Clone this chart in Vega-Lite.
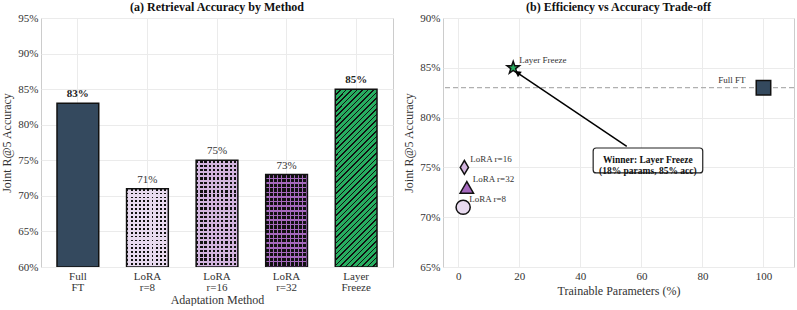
{
  "$schema": "https://vega.github.io/schema/vega-lite/v6.json",
  "padding": {"left": 0, "top": 0, "right": 0, "bottom": 0},
  "spacing": 8,
  "config": {
    "font": "Liberation Serif",
    "view": {"stroke": "#cccccc", "strokeWidth": 1},
    "axis": {"grid": true, "gridColor": "#ebebeb", "domain": false, "ticks": false, "labelFontSize": 11, "titleFontSize": 12, "labelColor": "#333333", "titleColor": "#333333", "titleFontWeight": "normal", "labelPadding": 3, "titlePadding": 4},
    "title": {"fontSize": 12, "fontWeight": "bold", "offset": -2, "color": "#111111"}
  },
  "datasets": {
    "bars": [
      {"method": "Full FT", "acc": 83},
      {"method": "LoRA r=8", "acc": 71},
      {"method": "LoRA r=16", "acc": 75},
      {"method": "LoRA r=32", "acc": 73},
      {"method": "Layer Freeze", "acc": 85}
    ],
    "points": [
      {"method": "Full FT", "params": 100, "acc": 83},
      {"method": "LoRA r=8", "params": 1.6, "acc": 71},
      {"method": "LoRA r=16", "params": 2.0, "acc": 75},
      {"method": "LoRA r=32", "params": 2.8, "acc": 73},
      {"method": "Layer Freeze", "params": 18, "acc": 85}
    ],
    "annot": [
      {"text": "Winner: Layer Freeze\n(18% params, 85% acc)", "x": 62.1, "y": 75.7, "bx": 44.2, "bx2": 80.1, "by": 76.95, "by2": 74.45, "ax": 55.2, "ay": 77.1, "ax2": 19.4, "ay2": 84.5}
    ]
  },
  "hconcat": [
    {
      "width": 352,
      "height": 249,
      "title": "(a) Retrieval Accuracy by Method",
      "data": {"name": "bars"},
      "transform": [{"calculate": "datum.acc + '%'", "as": "label"}],
      "encoding": {
        "x": {"field": "method", "type": "nominal", "sort": null,
              "scale": {"domain": ["Full FT", "LoRA r=8", "LoRA r=16", "LoRA r=32", "Layer Freeze"], "paddingInner": 0.4, "paddingOuter": 0.23},
              "axis": {"labelAngle": 0, "labelExpr": "split(datum.label, ' ')", "labelLineHeight": 11, "title": "Adaptation Method", "titlePadding": 2}},
        "y": {"field": "acc", "type": "quantitative",
              "scale": {"domain": [60, 95], "zero": false},
              "axis": {"values": [60, 65, 70, 75, 80, 85, 90, 95], "labelExpr": "datum.value + '%'", "title": "Joint R@5 Accuracy"}},
        "y2": {"datum": 60}
      },
      "layer": [
        {
          "transform": [{"filter": "datum.method === 'Full FT'"}],
          "mark": {"type": "bar", "fill": "#34495e", "strokeWidth": 0, "clip": true}
        },
        {
          "transform": [{"filter": "indexof(datum.method, 'LoRA') === 0"}],
          "mark": {"type": "bar", "fill": "#111111", "strokeWidth": 0, "clip": true}
        },
        {
          "transform": [{"filter": "datum.method === 'LoRA r=8'"}],
          "mark": {"type": "bar", "strokeWidth": 0, "clip": true, "fill": {"gradient": "linear", "x1": 0, "y1": 0, "x2": 1, "y2": 0, "stops": [
            {"offset": 0, "color": "rgba(0,0,0,0)"}, {"offset": 0.045, "color": "rgba(0,0,0,0)"}, {"offset": 0.045, "color": "#e8daef"}, {"offset": 0.1, "color": "#e8daef"},
            {"offset": 0.1, "color": "rgba(0,0,0,0)"}, {"offset": 0.145, "color": "rgba(0,0,0,0)"}, {"offset": 0.145, "color": "#e8daef"}, {"offset": 0.2, "color": "#e8daef"},
            {"offset": 0.2, "color": "rgba(0,0,0,0)"}, {"offset": 0.245, "color": "rgba(0,0,0,0)"}, {"offset": 0.245, "color": "#e8daef"}, {"offset": 0.3, "color": "#e8daef"},
            {"offset": 0.3, "color": "rgba(0,0,0,0)"}, {"offset": 0.345, "color": "rgba(0,0,0,0)"}, {"offset": 0.345, "color": "#e8daef"}, {"offset": 0.4, "color": "#e8daef"},
            {"offset": 0.4, "color": "rgba(0,0,0,0)"}, {"offset": 0.445, "color": "rgba(0,0,0,0)"}, {"offset": 0.445, "color": "#e8daef"}, {"offset": 0.5, "color": "#e8daef"},
            {"offset": 0.5, "color": "rgba(0,0,0,0)"}, {"offset": 0.545, "color": "rgba(0,0,0,0)"}, {"offset": 0.545, "color": "#e8daef"}, {"offset": 0.6, "color": "#e8daef"},
            {"offset": 0.6, "color": "rgba(0,0,0,0)"}, {"offset": 0.645, "color": "rgba(0,0,0,0)"}, {"offset": 0.645, "color": "#e8daef"}, {"offset": 0.7, "color": "#e8daef"},
            {"offset": 0.7, "color": "rgba(0,0,0,0)"}, {"offset": 0.745, "color": "rgba(0,0,0,0)"}, {"offset": 0.745, "color": "#e8daef"}, {"offset": 0.8, "color": "#e8daef"},
            {"offset": 0.8, "color": "rgba(0,0,0,0)"}, {"offset": 0.845, "color": "rgba(0,0,0,0)"}, {"offset": 0.845, "color": "#e8daef"}, {"offset": 0.9, "color": "#e8daef"},
            {"offset": 0.9, "color": "rgba(0,0,0,0)"}, {"offset": 0.945, "color": "rgba(0,0,0,0)"}, {"offset": 0.945, "color": "#e8daef"}, {"offset": 1, "color": "#e8daef"}
          ]}}
        },
        {
          "transform": [{"filter": "datum.method === 'LoRA r=8'"}],
          "mark": {"type": "bar", "strokeWidth": 0, "clip": true, "fill": {"gradient": "linear", "x1": 0, "y1": 0, "x2": 0, "y2": 1, "stops": [
            {"offset": 0, "color": "rgba(0,0,0,0)"}, {"offset": 0.0225, "color": "rgba(0,0,0,0)"}, {"offset": 0.0225, "color": "#e8daef"}, {"offset": 0.05, "color": "#e8daef"},
            {"offset": 0.05, "color": "rgba(0,0,0,0)"}, {"offset": 0.0725, "color": "rgba(0,0,0,0)"}, {"offset": 0.0725, "color": "#e8daef"}, {"offset": 0.1, "color": "#e8daef"},
            {"offset": 0.1, "color": "rgba(0,0,0,0)"}, {"offset": 0.1225, "color": "rgba(0,0,0,0)"}, {"offset": 0.1225, "color": "#e8daef"}, {"offset": 0.15, "color": "#e8daef"},
            {"offset": 0.15, "color": "rgba(0,0,0,0)"}, {"offset": 0.1725, "color": "rgba(0,0,0,0)"}, {"offset": 0.1725, "color": "#e8daef"}, {"offset": 0.2, "color": "#e8daef"},
            {"offset": 0.2, "color": "rgba(0,0,0,0)"}, {"offset": 0.2225, "color": "rgba(0,0,0,0)"}, {"offset": 0.2225, "color": "#e8daef"}, {"offset": 0.25, "color": "#e8daef"},
            {"offset": 0.25, "color": "rgba(0,0,0,0)"}, {"offset": 0.2725, "color": "rgba(0,0,0,0)"}, {"offset": 0.2725, "color": "#e8daef"}, {"offset": 0.3, "color": "#e8daef"},
            {"offset": 0.3, "color": "rgba(0,0,0,0)"}, {"offset": 0.3225, "color": "rgba(0,0,0,0)"}, {"offset": 0.3225, "color": "#e8daef"}, {"offset": 0.35, "color": "#e8daef"},
            {"offset": 0.35, "color": "rgba(0,0,0,0)"}, {"offset": 0.3725, "color": "rgba(0,0,0,0)"}, {"offset": 0.3725, "color": "#e8daef"}, {"offset": 0.4, "color": "#e8daef"},
            {"offset": 0.4, "color": "rgba(0,0,0,0)"}, {"offset": 0.4225, "color": "rgba(0,0,0,0)"}, {"offset": 0.4225, "color": "#e8daef"}, {"offset": 0.45, "color": "#e8daef"},
            {"offset": 0.45, "color": "rgba(0,0,0,0)"}, {"offset": 0.4725, "color": "rgba(0,0,0,0)"}, {"offset": 0.4725, "color": "#e8daef"}, {"offset": 0.5, "color": "#e8daef"},
            {"offset": 0.5, "color": "rgba(0,0,0,0)"}, {"offset": 0.5225, "color": "rgba(0,0,0,0)"}, {"offset": 0.5225, "color": "#e8daef"}, {"offset": 0.55, "color": "#e8daef"},
            {"offset": 0.55, "color": "rgba(0,0,0,0)"}, {"offset": 0.5725, "color": "rgba(0,0,0,0)"}, {"offset": 0.5725, "color": "#e8daef"}, {"offset": 0.6, "color": "#e8daef"},
            {"offset": 0.6, "color": "rgba(0,0,0,0)"}, {"offset": 0.6225, "color": "rgba(0,0,0,0)"}, {"offset": 0.6225, "color": "#e8daef"}, {"offset": 0.65, "color": "#e8daef"},
            {"offset": 0.65, "color": "rgba(0,0,0,0)"}, {"offset": 0.6725, "color": "rgba(0,0,0,0)"}, {"offset": 0.6725, "color": "#e8daef"}, {"offset": 0.7, "color": "#e8daef"},
            {"offset": 0.7, "color": "rgba(0,0,0,0)"}, {"offset": 0.7225, "color": "rgba(0,0,0,0)"}, {"offset": 0.7225, "color": "#e8daef"}, {"offset": 0.75, "color": "#e8daef"},
            {"offset": 0.75, "color": "rgba(0,0,0,0)"}, {"offset": 0.7725, "color": "rgba(0,0,0,0)"}, {"offset": 0.7725, "color": "#e8daef"}, {"offset": 0.8, "color": "#e8daef"},
            {"offset": 0.8, "color": "rgba(0,0,0,0)"}, {"offset": 0.8225, "color": "rgba(0,0,0,0)"}, {"offset": 0.8225, "color": "#e8daef"}, {"offset": 0.85, "color": "#e8daef"},
            {"offset": 0.85, "color": "rgba(0,0,0,0)"}, {"offset": 0.8725, "color": "rgba(0,0,0,0)"}, {"offset": 0.8725, "color": "#e8daef"}, {"offset": 0.9, "color": "#e8daef"},
            {"offset": 0.9, "color": "rgba(0,0,0,0)"}, {"offset": 0.9225, "color": "rgba(0,0,0,0)"}, {"offset": 0.9225, "color": "#e8daef"}, {"offset": 0.95, "color": "#e8daef"},
            {"offset": 0.95, "color": "rgba(0,0,0,0)"}, {"offset": 0.9725, "color": "rgba(0,0,0,0)"}, {"offset": 0.9725, "color": "#e8daef"}, {"offset": 1, "color": "#e8daef"}
          ]}}
        },
        {
          "transform": [{"filter": "datum.method === 'LoRA r=16'"}],
          "mark": {"type": "bar", "strokeWidth": 0, "clip": true, "fill": {"gradient": "linear", "x1": 0, "y1": 0, "x2": 1, "y2": 0, "stops": [
            {"offset": 0, "color": "rgba(0,0,0,0)"}, {"offset": 0.055, "color": "rgba(0,0,0,0)"}, {"offset": 0.055, "color": "#d2b4de"}, {"offset": 0.1, "color": "#d2b4de"},
            {"offset": 0.1, "color": "rgba(0,0,0,0)"}, {"offset": 0.155, "color": "rgba(0,0,0,0)"}, {"offset": 0.155, "color": "#d2b4de"}, {"offset": 0.2, "color": "#d2b4de"},
            {"offset": 0.2, "color": "rgba(0,0,0,0)"}, {"offset": 0.255, "color": "rgba(0,0,0,0)"}, {"offset": 0.255, "color": "#d2b4de"}, {"offset": 0.3, "color": "#d2b4de"},
            {"offset": 0.3, "color": "rgba(0,0,0,0)"}, {"offset": 0.355, "color": "rgba(0,0,0,0)"}, {"offset": 0.355, "color": "#d2b4de"}, {"offset": 0.4, "color": "#d2b4de"},
            {"offset": 0.4, "color": "rgba(0,0,0,0)"}, {"offset": 0.455, "color": "rgba(0,0,0,0)"}, {"offset": 0.455, "color": "#d2b4de"}, {"offset": 0.5, "color": "#d2b4de"},
            {"offset": 0.5, "color": "rgba(0,0,0,0)"}, {"offset": 0.555, "color": "rgba(0,0,0,0)"}, {"offset": 0.555, "color": "#d2b4de"}, {"offset": 0.6, "color": "#d2b4de"},
            {"offset": 0.6, "color": "rgba(0,0,0,0)"}, {"offset": 0.655, "color": "rgba(0,0,0,0)"}, {"offset": 0.655, "color": "#d2b4de"}, {"offset": 0.7, "color": "#d2b4de"},
            {"offset": 0.7, "color": "rgba(0,0,0,0)"}, {"offset": 0.755, "color": "rgba(0,0,0,0)"}, {"offset": 0.755, "color": "#d2b4de"}, {"offset": 0.8, "color": "#d2b4de"},
            {"offset": 0.8, "color": "rgba(0,0,0,0)"}, {"offset": 0.855, "color": "rgba(0,0,0,0)"}, {"offset": 0.855, "color": "#d2b4de"}, {"offset": 0.9, "color": "#d2b4de"},
            {"offset": 0.9, "color": "rgba(0,0,0,0)"}, {"offset": 0.955, "color": "rgba(0,0,0,0)"}, {"offset": 0.955, "color": "#d2b4de"}, {"offset": 1, "color": "#d2b4de"}
          ]}}
        },
        {
          "transform": [{"filter": "datum.method === 'LoRA r=16'"}],
          "mark": {"type": "bar", "strokeWidth": 0, "clip": true, "fill": {"gradient": "linear", "x1": 0, "y1": 0, "x2": 0, "y2": 1, "stops": [
            {"offset": 0, "color": "rgba(0,0,0,0)"}, {"offset": 0.022, "color": "rgba(0,0,0,0)"}, {"offset": 0.022, "color": "#d2b4de"}, {"offset": 0.04, "color": "#d2b4de"},
            {"offset": 0.04, "color": "rgba(0,0,0,0)"}, {"offset": 0.062, "color": "rgba(0,0,0,0)"}, {"offset": 0.062, "color": "#d2b4de"}, {"offset": 0.08, "color": "#d2b4de"},
            {"offset": 0.08, "color": "rgba(0,0,0,0)"}, {"offset": 0.102, "color": "rgba(0,0,0,0)"}, {"offset": 0.102, "color": "#d2b4de"}, {"offset": 0.12, "color": "#d2b4de"},
            {"offset": 0.12, "color": "rgba(0,0,0,0)"}, {"offset": 0.142, "color": "rgba(0,0,0,0)"}, {"offset": 0.142, "color": "#d2b4de"}, {"offset": 0.16, "color": "#d2b4de"},
            {"offset": 0.16, "color": "rgba(0,0,0,0)"}, {"offset": 0.182, "color": "rgba(0,0,0,0)"}, {"offset": 0.182, "color": "#d2b4de"}, {"offset": 0.2, "color": "#d2b4de"},
            {"offset": 0.2, "color": "rgba(0,0,0,0)"}, {"offset": 0.222, "color": "rgba(0,0,0,0)"}, {"offset": 0.222, "color": "#d2b4de"}, {"offset": 0.24, "color": "#d2b4de"},
            {"offset": 0.24, "color": "rgba(0,0,0,0)"}, {"offset": 0.262, "color": "rgba(0,0,0,0)"}, {"offset": 0.262, "color": "#d2b4de"}, {"offset": 0.28, "color": "#d2b4de"},
            {"offset": 0.28, "color": "rgba(0,0,0,0)"}, {"offset": 0.302, "color": "rgba(0,0,0,0)"}, {"offset": 0.302, "color": "#d2b4de"}, {"offset": 0.32, "color": "#d2b4de"},
            {"offset": 0.32, "color": "rgba(0,0,0,0)"}, {"offset": 0.342, "color": "rgba(0,0,0,0)"}, {"offset": 0.342, "color": "#d2b4de"}, {"offset": 0.36, "color": "#d2b4de"},
            {"offset": 0.36, "color": "rgba(0,0,0,0)"}, {"offset": 0.382, "color": "rgba(0,0,0,0)"}, {"offset": 0.382, "color": "#d2b4de"}, {"offset": 0.4, "color": "#d2b4de"},
            {"offset": 0.4, "color": "rgba(0,0,0,0)"}, {"offset": 0.422, "color": "rgba(0,0,0,0)"}, {"offset": 0.422, "color": "#d2b4de"}, {"offset": 0.44, "color": "#d2b4de"},
            {"offset": 0.44, "color": "rgba(0,0,0,0)"}, {"offset": 0.462, "color": "rgba(0,0,0,0)"}, {"offset": 0.462, "color": "#d2b4de"}, {"offset": 0.48, "color": "#d2b4de"},
            {"offset": 0.48, "color": "rgba(0,0,0,0)"}, {"offset": 0.502, "color": "rgba(0,0,0,0)"}, {"offset": 0.502, "color": "#d2b4de"}, {"offset": 0.52, "color": "#d2b4de"},
            {"offset": 0.52, "color": "rgba(0,0,0,0)"}, {"offset": 0.542, "color": "rgba(0,0,0,0)"}, {"offset": 0.542, "color": "#d2b4de"}, {"offset": 0.56, "color": "#d2b4de"},
            {"offset": 0.56, "color": "rgba(0,0,0,0)"}, {"offset": 0.582, "color": "rgba(0,0,0,0)"}, {"offset": 0.582, "color": "#d2b4de"}, {"offset": 0.6, "color": "#d2b4de"},
            {"offset": 0.6, "color": "rgba(0,0,0,0)"}, {"offset": 0.622, "color": "rgba(0,0,0,0)"}, {"offset": 0.622, "color": "#d2b4de"}, {"offset": 0.64, "color": "#d2b4de"},
            {"offset": 0.64, "color": "rgba(0,0,0,0)"}, {"offset": 0.662, "color": "rgba(0,0,0,0)"}, {"offset": 0.662, "color": "#d2b4de"}, {"offset": 0.68, "color": "#d2b4de"},
            {"offset": 0.68, "color": "rgba(0,0,0,0)"}, {"offset": 0.702, "color": "rgba(0,0,0,0)"}, {"offset": 0.702, "color": "#d2b4de"}, {"offset": 0.72, "color": "#d2b4de"},
            {"offset": 0.72, "color": "rgba(0,0,0,0)"}, {"offset": 0.742, "color": "rgba(0,0,0,0)"}, {"offset": 0.742, "color": "#d2b4de"}, {"offset": 0.76, "color": "#d2b4de"},
            {"offset": 0.76, "color": "rgba(0,0,0,0)"}, {"offset": 0.782, "color": "rgba(0,0,0,0)"}, {"offset": 0.782, "color": "#d2b4de"}, {"offset": 0.8, "color": "#d2b4de"},
            {"offset": 0.8, "color": "rgba(0,0,0,0)"}, {"offset": 0.822, "color": "rgba(0,0,0,0)"}, {"offset": 0.822, "color": "#d2b4de"}, {"offset": 0.84, "color": "#d2b4de"},
            {"offset": 0.84, "color": "rgba(0,0,0,0)"}, {"offset": 0.862, "color": "rgba(0,0,0,0)"}, {"offset": 0.862, "color": "#d2b4de"}, {"offset": 0.88, "color": "#d2b4de"},
            {"offset": 0.88, "color": "rgba(0,0,0,0)"}, {"offset": 0.902, "color": "rgba(0,0,0,0)"}, {"offset": 0.902, "color": "#d2b4de"}, {"offset": 0.92, "color": "#d2b4de"},
            {"offset": 0.92, "color": "rgba(0,0,0,0)"}, {"offset": 0.942, "color": "rgba(0,0,0,0)"}, {"offset": 0.942, "color": "#d2b4de"}, {"offset": 0.96, "color": "#d2b4de"},
            {"offset": 0.96, "color": "rgba(0,0,0,0)"}, {"offset": 0.982, "color": "rgba(0,0,0,0)"}, {"offset": 0.982, "color": "#d2b4de"}, {"offset": 1, "color": "#d2b4de"}
          ]}}
        },
        {
          "transform": [{"filter": "datum.method === 'LoRA r=32'"}],
          "mark": {"type": "bar", "strokeWidth": 0, "clip": true, "fill": {"gradient": "linear", "x1": 0, "y1": 0, "x2": 1, "y2": 0, "stops": [
            {"offset": 0, "color": "rgba(0,0,0,0)"}, {"offset": 0.075, "color": "rgba(0,0,0,0)"}, {"offset": 0.075, "color": "#a569bd"}, {"offset": 0.1, "color": "#a569bd"},
            {"offset": 0.1, "color": "rgba(0,0,0,0)"}, {"offset": 0.175, "color": "rgba(0,0,0,0)"}, {"offset": 0.175, "color": "#a569bd"}, {"offset": 0.2, "color": "#a569bd"},
            {"offset": 0.2, "color": "rgba(0,0,0,0)"}, {"offset": 0.275, "color": "rgba(0,0,0,0)"}, {"offset": 0.275, "color": "#a569bd"}, {"offset": 0.3, "color": "#a569bd"},
            {"offset": 0.3, "color": "rgba(0,0,0,0)"}, {"offset": 0.375, "color": "rgba(0,0,0,0)"}, {"offset": 0.375, "color": "#a569bd"}, {"offset": 0.4, "color": "#a569bd"},
            {"offset": 0.4, "color": "rgba(0,0,0,0)"}, {"offset": 0.475, "color": "rgba(0,0,0,0)"}, {"offset": 0.475, "color": "#a569bd"}, {"offset": 0.5, "color": "#a569bd"},
            {"offset": 0.5, "color": "rgba(0,0,0,0)"}, {"offset": 0.575, "color": "rgba(0,0,0,0)"}, {"offset": 0.575, "color": "#a569bd"}, {"offset": 0.6, "color": "#a569bd"},
            {"offset": 0.6, "color": "rgba(0,0,0,0)"}, {"offset": 0.675, "color": "rgba(0,0,0,0)"}, {"offset": 0.675, "color": "#a569bd"}, {"offset": 0.7, "color": "#a569bd"},
            {"offset": 0.7, "color": "rgba(0,0,0,0)"}, {"offset": 0.775, "color": "rgba(0,0,0,0)"}, {"offset": 0.775, "color": "#a569bd"}, {"offset": 0.8, "color": "#a569bd"},
            {"offset": 0.8, "color": "rgba(0,0,0,0)"}, {"offset": 0.875, "color": "rgba(0,0,0,0)"}, {"offset": 0.875, "color": "#a569bd"}, {"offset": 0.9, "color": "#a569bd"},
            {"offset": 0.9, "color": "rgba(0,0,0,0)"}, {"offset": 0.975, "color": "rgba(0,0,0,0)"}, {"offset": 0.975, "color": "#a569bd"}, {"offset": 1, "color": "#a569bd"}
          ]}}
        },
        {
          "transform": [{"filter": "datum.method === 'LoRA r=32'"}],
          "mark": {"type": "bar", "strokeWidth": 0, "clip": true, "fill": {"gradient": "linear", "x1": 0, "y1": 0, "x2": 0, "y2": 1, "stops": [
            {"offset": 0, "color": "rgba(0,0,0,0)"}, {"offset": 0.035, "color": "rgba(0,0,0,0)"}, {"offset": 0.035, "color": "#a569bd"}, {"offset": 0.05, "color": "#a569bd"},
            {"offset": 0.05, "color": "rgba(0,0,0,0)"}, {"offset": 0.085, "color": "rgba(0,0,0,0)"}, {"offset": 0.085, "color": "#a569bd"}, {"offset": 0.1, "color": "#a569bd"},
            {"offset": 0.1, "color": "rgba(0,0,0,0)"}, {"offset": 0.135, "color": "rgba(0,0,0,0)"}, {"offset": 0.135, "color": "#a569bd"}, {"offset": 0.15, "color": "#a569bd"},
            {"offset": 0.15, "color": "rgba(0,0,0,0)"}, {"offset": 0.185, "color": "rgba(0,0,0,0)"}, {"offset": 0.185, "color": "#a569bd"}, {"offset": 0.2, "color": "#a569bd"},
            {"offset": 0.2, "color": "rgba(0,0,0,0)"}, {"offset": 0.235, "color": "rgba(0,0,0,0)"}, {"offset": 0.235, "color": "#a569bd"}, {"offset": 0.25, "color": "#a569bd"},
            {"offset": 0.25, "color": "rgba(0,0,0,0)"}, {"offset": 0.285, "color": "rgba(0,0,0,0)"}, {"offset": 0.285, "color": "#a569bd"}, {"offset": 0.3, "color": "#a569bd"},
            {"offset": 0.3, "color": "rgba(0,0,0,0)"}, {"offset": 0.335, "color": "rgba(0,0,0,0)"}, {"offset": 0.335, "color": "#a569bd"}, {"offset": 0.35, "color": "#a569bd"},
            {"offset": 0.35, "color": "rgba(0,0,0,0)"}, {"offset": 0.385, "color": "rgba(0,0,0,0)"}, {"offset": 0.385, "color": "#a569bd"}, {"offset": 0.4, "color": "#a569bd"},
            {"offset": 0.4, "color": "rgba(0,0,0,0)"}, {"offset": 0.435, "color": "rgba(0,0,0,0)"}, {"offset": 0.435, "color": "#a569bd"}, {"offset": 0.45, "color": "#a569bd"},
            {"offset": 0.45, "color": "rgba(0,0,0,0)"}, {"offset": 0.485, "color": "rgba(0,0,0,0)"}, {"offset": 0.485, "color": "#a569bd"}, {"offset": 0.5, "color": "#a569bd"},
            {"offset": 0.5, "color": "rgba(0,0,0,0)"}, {"offset": 0.535, "color": "rgba(0,0,0,0)"}, {"offset": 0.535, "color": "#a569bd"}, {"offset": 0.55, "color": "#a569bd"},
            {"offset": 0.55, "color": "rgba(0,0,0,0)"}, {"offset": 0.585, "color": "rgba(0,0,0,0)"}, {"offset": 0.585, "color": "#a569bd"}, {"offset": 0.6, "color": "#a569bd"},
            {"offset": 0.6, "color": "rgba(0,0,0,0)"}, {"offset": 0.635, "color": "rgba(0,0,0,0)"}, {"offset": 0.635, "color": "#a569bd"}, {"offset": 0.65, "color": "#a569bd"},
            {"offset": 0.65, "color": "rgba(0,0,0,0)"}, {"offset": 0.685, "color": "rgba(0,0,0,0)"}, {"offset": 0.685, "color": "#a569bd"}, {"offset": 0.7, "color": "#a569bd"},
            {"offset": 0.7, "color": "rgba(0,0,0,0)"}, {"offset": 0.735, "color": "rgba(0,0,0,0)"}, {"offset": 0.735, "color": "#a569bd"}, {"offset": 0.75, "color": "#a569bd"},
            {"offset": 0.75, "color": "rgba(0,0,0,0)"}, {"offset": 0.785, "color": "rgba(0,0,0,0)"}, {"offset": 0.785, "color": "#a569bd"}, {"offset": 0.8, "color": "#a569bd"},
            {"offset": 0.8, "color": "rgba(0,0,0,0)"}, {"offset": 0.835, "color": "rgba(0,0,0,0)"}, {"offset": 0.835, "color": "#a569bd"}, {"offset": 0.85, "color": "#a569bd"},
            {"offset": 0.85, "color": "rgba(0,0,0,0)"}, {"offset": 0.885, "color": "rgba(0,0,0,0)"}, {"offset": 0.885, "color": "#a569bd"}, {"offset": 0.9, "color": "#a569bd"},
            {"offset": 0.9, "color": "rgba(0,0,0,0)"}, {"offset": 0.935, "color": "rgba(0,0,0,0)"}, {"offset": 0.935, "color": "#a569bd"}, {"offset": 0.95, "color": "#a569bd"},
            {"offset": 0.95, "color": "rgba(0,0,0,0)"}, {"offset": 0.985, "color": "rgba(0,0,0,0)"}, {"offset": 0.985, "color": "#a569bd"}, {"offset": 1, "color": "#a569bd"}
          ]}}
        },
        {
          "transform": [{"filter": "datum.method === 'Layer Freeze'"}],
          "mark": {"type": "bar", "strokeWidth": 0, "clip": true, "fill": {"gradient": "linear", "x1": 0, "y1": 0, "x2": 0.2765, "y2": 1.171, "stops": [
            {"offset": 0, "color": "#111111"}, {"offset": 0.0075, "color": "#111111"}, {"offset": 0.0075, "color": "#27ae60"}, {"offset": 0.025, "color": "#27ae60"},
            {"offset": 0.025, "color": "#111111"}, {"offset": 0.0325, "color": "#111111"}, {"offset": 0.0325, "color": "#27ae60"}, {"offset": 0.05, "color": "#27ae60"},
            {"offset": 0.05, "color": "#111111"}, {"offset": 0.0575, "color": "#111111"}, {"offset": 0.0575, "color": "#27ae60"}, {"offset": 0.075, "color": "#27ae60"},
            {"offset": 0.075, "color": "#111111"}, {"offset": 0.0825, "color": "#111111"}, {"offset": 0.0825, "color": "#27ae60"}, {"offset": 0.1, "color": "#27ae60"},
            {"offset": 0.1, "color": "#111111"}, {"offset": 0.1075, "color": "#111111"}, {"offset": 0.1075, "color": "#27ae60"}, {"offset": 0.125, "color": "#27ae60"},
            {"offset": 0.125, "color": "#111111"}, {"offset": 0.1325, "color": "#111111"}, {"offset": 0.1325, "color": "#27ae60"}, {"offset": 0.15, "color": "#27ae60"},
            {"offset": 0.15, "color": "#111111"}, {"offset": 0.1575, "color": "#111111"}, {"offset": 0.1575, "color": "#27ae60"}, {"offset": 0.175, "color": "#27ae60"},
            {"offset": 0.175, "color": "#111111"}, {"offset": 0.1825, "color": "#111111"}, {"offset": 0.1825, "color": "#27ae60"}, {"offset": 0.2, "color": "#27ae60"},
            {"offset": 0.2, "color": "#111111"}, {"offset": 0.2075, "color": "#111111"}, {"offset": 0.2075, "color": "#27ae60"}, {"offset": 0.225, "color": "#27ae60"},
            {"offset": 0.225, "color": "#111111"}, {"offset": 0.2325, "color": "#111111"}, {"offset": 0.2325, "color": "#27ae60"}, {"offset": 0.25, "color": "#27ae60"},
            {"offset": 0.25, "color": "#111111"}, {"offset": 0.2575, "color": "#111111"}, {"offset": 0.2575, "color": "#27ae60"}, {"offset": 0.275, "color": "#27ae60"},
            {"offset": 0.275, "color": "#111111"}, {"offset": 0.2825, "color": "#111111"}, {"offset": 0.2825, "color": "#27ae60"}, {"offset": 0.3, "color": "#27ae60"},
            {"offset": 0.3, "color": "#111111"}, {"offset": 0.3075, "color": "#111111"}, {"offset": 0.3075, "color": "#27ae60"}, {"offset": 0.325, "color": "#27ae60"},
            {"offset": 0.325, "color": "#111111"}, {"offset": 0.3325, "color": "#111111"}, {"offset": 0.3325, "color": "#27ae60"}, {"offset": 0.35, "color": "#27ae60"},
            {"offset": 0.35, "color": "#111111"}, {"offset": 0.3575, "color": "#111111"}, {"offset": 0.3575, "color": "#27ae60"}, {"offset": 0.375, "color": "#27ae60"},
            {"offset": 0.375, "color": "#111111"}, {"offset": 0.3825, "color": "#111111"}, {"offset": 0.3825, "color": "#27ae60"}, {"offset": 0.4, "color": "#27ae60"},
            {"offset": 0.4, "color": "#111111"}, {"offset": 0.4075, "color": "#111111"}, {"offset": 0.4075, "color": "#27ae60"}, {"offset": 0.425, "color": "#27ae60"},
            {"offset": 0.425, "color": "#111111"}, {"offset": 0.4325, "color": "#111111"}, {"offset": 0.4325, "color": "#27ae60"}, {"offset": 0.45, "color": "#27ae60"},
            {"offset": 0.45, "color": "#111111"}, {"offset": 0.4575, "color": "#111111"}, {"offset": 0.4575, "color": "#27ae60"}, {"offset": 0.475, "color": "#27ae60"},
            {"offset": 0.475, "color": "#111111"}, {"offset": 0.4825, "color": "#111111"}, {"offset": 0.4825, "color": "#27ae60"}, {"offset": 0.5, "color": "#27ae60"},
            {"offset": 0.5, "color": "#111111"}, {"offset": 0.5075, "color": "#111111"}, {"offset": 0.5075, "color": "#27ae60"}, {"offset": 0.525, "color": "#27ae60"},
            {"offset": 0.525, "color": "#111111"}, {"offset": 0.5325, "color": "#111111"}, {"offset": 0.5325, "color": "#27ae60"}, {"offset": 0.55, "color": "#27ae60"},
            {"offset": 0.55, "color": "#111111"}, {"offset": 0.5575, "color": "#111111"}, {"offset": 0.5575, "color": "#27ae60"}, {"offset": 0.575, "color": "#27ae60"},
            {"offset": 0.575, "color": "#111111"}, {"offset": 0.5825, "color": "#111111"}, {"offset": 0.5825, "color": "#27ae60"}, {"offset": 0.6, "color": "#27ae60"},
            {"offset": 0.6, "color": "#111111"}, {"offset": 0.6075, "color": "#111111"}, {"offset": 0.6075, "color": "#27ae60"}, {"offset": 0.625, "color": "#27ae60"},
            {"offset": 0.625, "color": "#111111"}, {"offset": 0.6325, "color": "#111111"}, {"offset": 0.6325, "color": "#27ae60"}, {"offset": 0.65, "color": "#27ae60"},
            {"offset": 0.65, "color": "#111111"}, {"offset": 0.6575, "color": "#111111"}, {"offset": 0.6575, "color": "#27ae60"}, {"offset": 0.675, "color": "#27ae60"},
            {"offset": 0.675, "color": "#111111"}, {"offset": 0.6825, "color": "#111111"}, {"offset": 0.6825, "color": "#27ae60"}, {"offset": 0.7, "color": "#27ae60"},
            {"offset": 0.7, "color": "#111111"}, {"offset": 0.7075, "color": "#111111"}, {"offset": 0.7075, "color": "#27ae60"}, {"offset": 0.725, "color": "#27ae60"},
            {"offset": 0.725, "color": "#111111"}, {"offset": 0.7325, "color": "#111111"}, {"offset": 0.7325, "color": "#27ae60"}, {"offset": 0.75, "color": "#27ae60"},
            {"offset": 0.75, "color": "#111111"}, {"offset": 0.7575, "color": "#111111"}, {"offset": 0.7575, "color": "#27ae60"}, {"offset": 0.775, "color": "#27ae60"},
            {"offset": 0.775, "color": "#111111"}, {"offset": 0.7825, "color": "#111111"}, {"offset": 0.7825, "color": "#27ae60"}, {"offset": 0.8, "color": "#27ae60"},
            {"offset": 0.8, "color": "#111111"}, {"offset": 0.8075, "color": "#111111"}, {"offset": 0.8075, "color": "#27ae60"}, {"offset": 0.825, "color": "#27ae60"},
            {"offset": 0.825, "color": "#111111"}, {"offset": 0.8325, "color": "#111111"}, {"offset": 0.8325, "color": "#27ae60"}, {"offset": 0.85, "color": "#27ae60"},
            {"offset": 0.85, "color": "#111111"}, {"offset": 0.8575, "color": "#111111"}, {"offset": 0.8575, "color": "#27ae60"}, {"offset": 0.875, "color": "#27ae60"},
            {"offset": 0.875, "color": "#111111"}, {"offset": 0.8825, "color": "#111111"}, {"offset": 0.8825, "color": "#27ae60"}, {"offset": 0.9, "color": "#27ae60"},
            {"offset": 0.9, "color": "#111111"}, {"offset": 0.9075, "color": "#111111"}, {"offset": 0.9075, "color": "#27ae60"}, {"offset": 0.925, "color": "#27ae60"},
            {"offset": 0.925, "color": "#111111"}, {"offset": 0.9325, "color": "#111111"}, {"offset": 0.9325, "color": "#27ae60"}, {"offset": 0.95, "color": "#27ae60"},
            {"offset": 0.95, "color": "#111111"}, {"offset": 0.9575, "color": "#111111"}, {"offset": 0.9575, "color": "#27ae60"}, {"offset": 0.975, "color": "#27ae60"},
            {"offset": 0.975, "color": "#111111"}, {"offset": 0.9825, "color": "#111111"}, {"offset": 0.9825, "color": "#27ae60"}, {"offset": 1, "color": "#27ae60"}
          ]}}
        },
        {
          "mark": {"type": "bar", "fillOpacity": 0, "stroke": "#111111", "strokeWidth": 1.5, "clip": true}
        },
        {
          "transform": [{"filter": "datum.method === 'Full FT' || datum.method === 'Layer Freeze'"}],
          "mark": {"type": "text", "baseline": "bottom", "dy": -4, "fontSize": 11, "fontWeight": "bold", "color": "#222222"},
          "encoding": {"text": {"field": "label"}, "y2": null}
        },
        {
          "transform": [{"filter": "datum.method !== 'Full FT' && datum.method !== 'Layer Freeze'"}],
          "mark": {"type": "text", "baseline": "bottom", "dy": -4, "fontSize": 11, "color": "#333333"},
          "encoding": {"text": {"field": "label"}, "y2": null}
        }
      ]
    },
    {
      "width": 351,
      "height": 249,
      "title": "(b) Efficiency vs Accuracy Trade-off",
      "layer": [
        {
          "data": {"name": "points"},
          "transform": [{"filter": "datum.method === 'Full FT'"}],
          "mark": {"type": "rule", "strokeDash": [5, 3], "color": "#b0b0b0", "strokeWidth": 1.2},
          "encoding": {"y": {"field": "acc", "type": "quantitative", "scale": {"domain": [65, 90]}}}
        },
        {
          "data": {"name": "points"},
          "mark": {"type": "point", "filled": true, "stroke": "#111111", "strokeWidth": 1.5, "opacity": 1},
          "encoding": {
            "x": {"field": "params", "type": "quantitative",
                  "scale": {"domain": [-5, 110], "nice": false},
                  "axis": {"values": [0, 20, 40, 60, 80, 100], "title": "Trainable Parameters (%)"}},
            "y": {"field": "acc", "type": "quantitative",
                  "scale": {"domain": [65, 90], "nice": false},
                  "axis": {"values": [65, 70, 75, 80, 85, 90], "labelExpr": "datum.value + '%'", "title": "Joint R@5 Accuracy"}},
            "shape": {"field": "method", "type": "nominal", "legend": null,
                      "scale": {"domain": ["Full FT", "LoRA r=8", "LoRA r=16", "LoRA r=32", "Layer Freeze"],
                                "range": ["square", "circle", "M0,-1L0.6,0L0,1L-0.6,0Z", "triangle-up", "M0,-1L0.235,-0.324L0.951,-0.309L0.38,0.124L0.588,0.809L0,0.4L-0.588,0.809L-0.38,0.124L-0.951,-0.309L-0.235,-0.324Z"]}},
            "fill": {"field": "method", "type": "nominal", "legend": null,
                     "scale": {"domain": ["Full FT", "LoRA r=8", "LoRA r=16", "LoRA r=32", "Layer Freeze"],
                               "range": ["#34495e", "#e8daef", "#d2b4de", "#a569bd", "#27ae60"]}},
            "size": {"field": "method", "type": "nominal", "legend": null,
                     "scale": {"domain": ["Full FT", "LoRA r=8", "LoRA r=16", "LoRA r=32", "Layer Freeze"],
                               "range": [210, 170, 300, 200, 400]}}
          }
        },
        {
          "data": {"name": "annot"},
          "mark": {"type": "rule", "color": "#000000", "strokeWidth": 1.5},
          "encoding": {
            "x": {"field": "ax", "type": "quantitative"},
            "y": {"field": "ay", "type": "quantitative"},
            "x2": {"field": "ax2"},
            "y2": {"field": "ay2"}
          }
        },
        {
          "data": {"name": "annot"},
          "mark": {"type": "point", "shape": "triangle-up", "filled": true, "color": "#000000", "size": 45, "angle": 305, "opacity": 1},
          "encoding": {
            "x": {"field": "ax2", "type": "quantitative"},
            "y": {"field": "ay2", "type": "quantitative"}
          }
        },
        {
          "data": {"name": "points"},
          "transform": [{"filter": "datum.method !== 'Full FT'"}],
          "mark": {"type": "text", "align": "left", "baseline": "middle", "dx": 6, "dy": -8, "fontSize": 9, "color": "#333333"},
          "encoding": {
            "x": {"field": "params", "type": "quantitative"},
            "y": {"field": "acc", "type": "quantitative"},
            "text": {"field": "method"}
          }
        },
        {
          "data": {"name": "points"},
          "transform": [{"filter": "datum.method === 'Full FT'"}],
          "mark": {"type": "text", "align": "right", "baseline": "middle", "dx": -18, "dy": -8, "fontSize": 9, "color": "#333333"},
          "encoding": {
            "x": {"field": "params", "type": "quantitative"},
            "y": {"field": "acc", "type": "quantitative"},
            "text": {"field": "method"}
          }
        },
        {
          "data": {"name": "annot"},
          "mark": {"type": "rect", "fill": "#ffffff", "stroke": "#222222", "strokeWidth": 1.2, "cornerRadius": 3},
          "encoding": {
            "x": {"field": "bx", "type": "quantitative"},
            "x2": {"field": "bx2"},
            "y": {"field": "by", "type": "quantitative"},
            "y2": {"field": "by2"}
          }
        },
        {
          "data": {"name": "annot"},
          "mark": {"type": "text", "align": "center", "baseline": "middle", "lineBreak": "\n", "lineHeight": 11, "fontSize": 9.5, "fontWeight": "bold", "color": "#111111"},
          "encoding": {
            "x": {"field": "x", "type": "quantitative"},
            "y": {"field": "y", "type": "quantitative"},
            "text": {"field": "text"}
          }
        }
      ]
    }
  ]
}
